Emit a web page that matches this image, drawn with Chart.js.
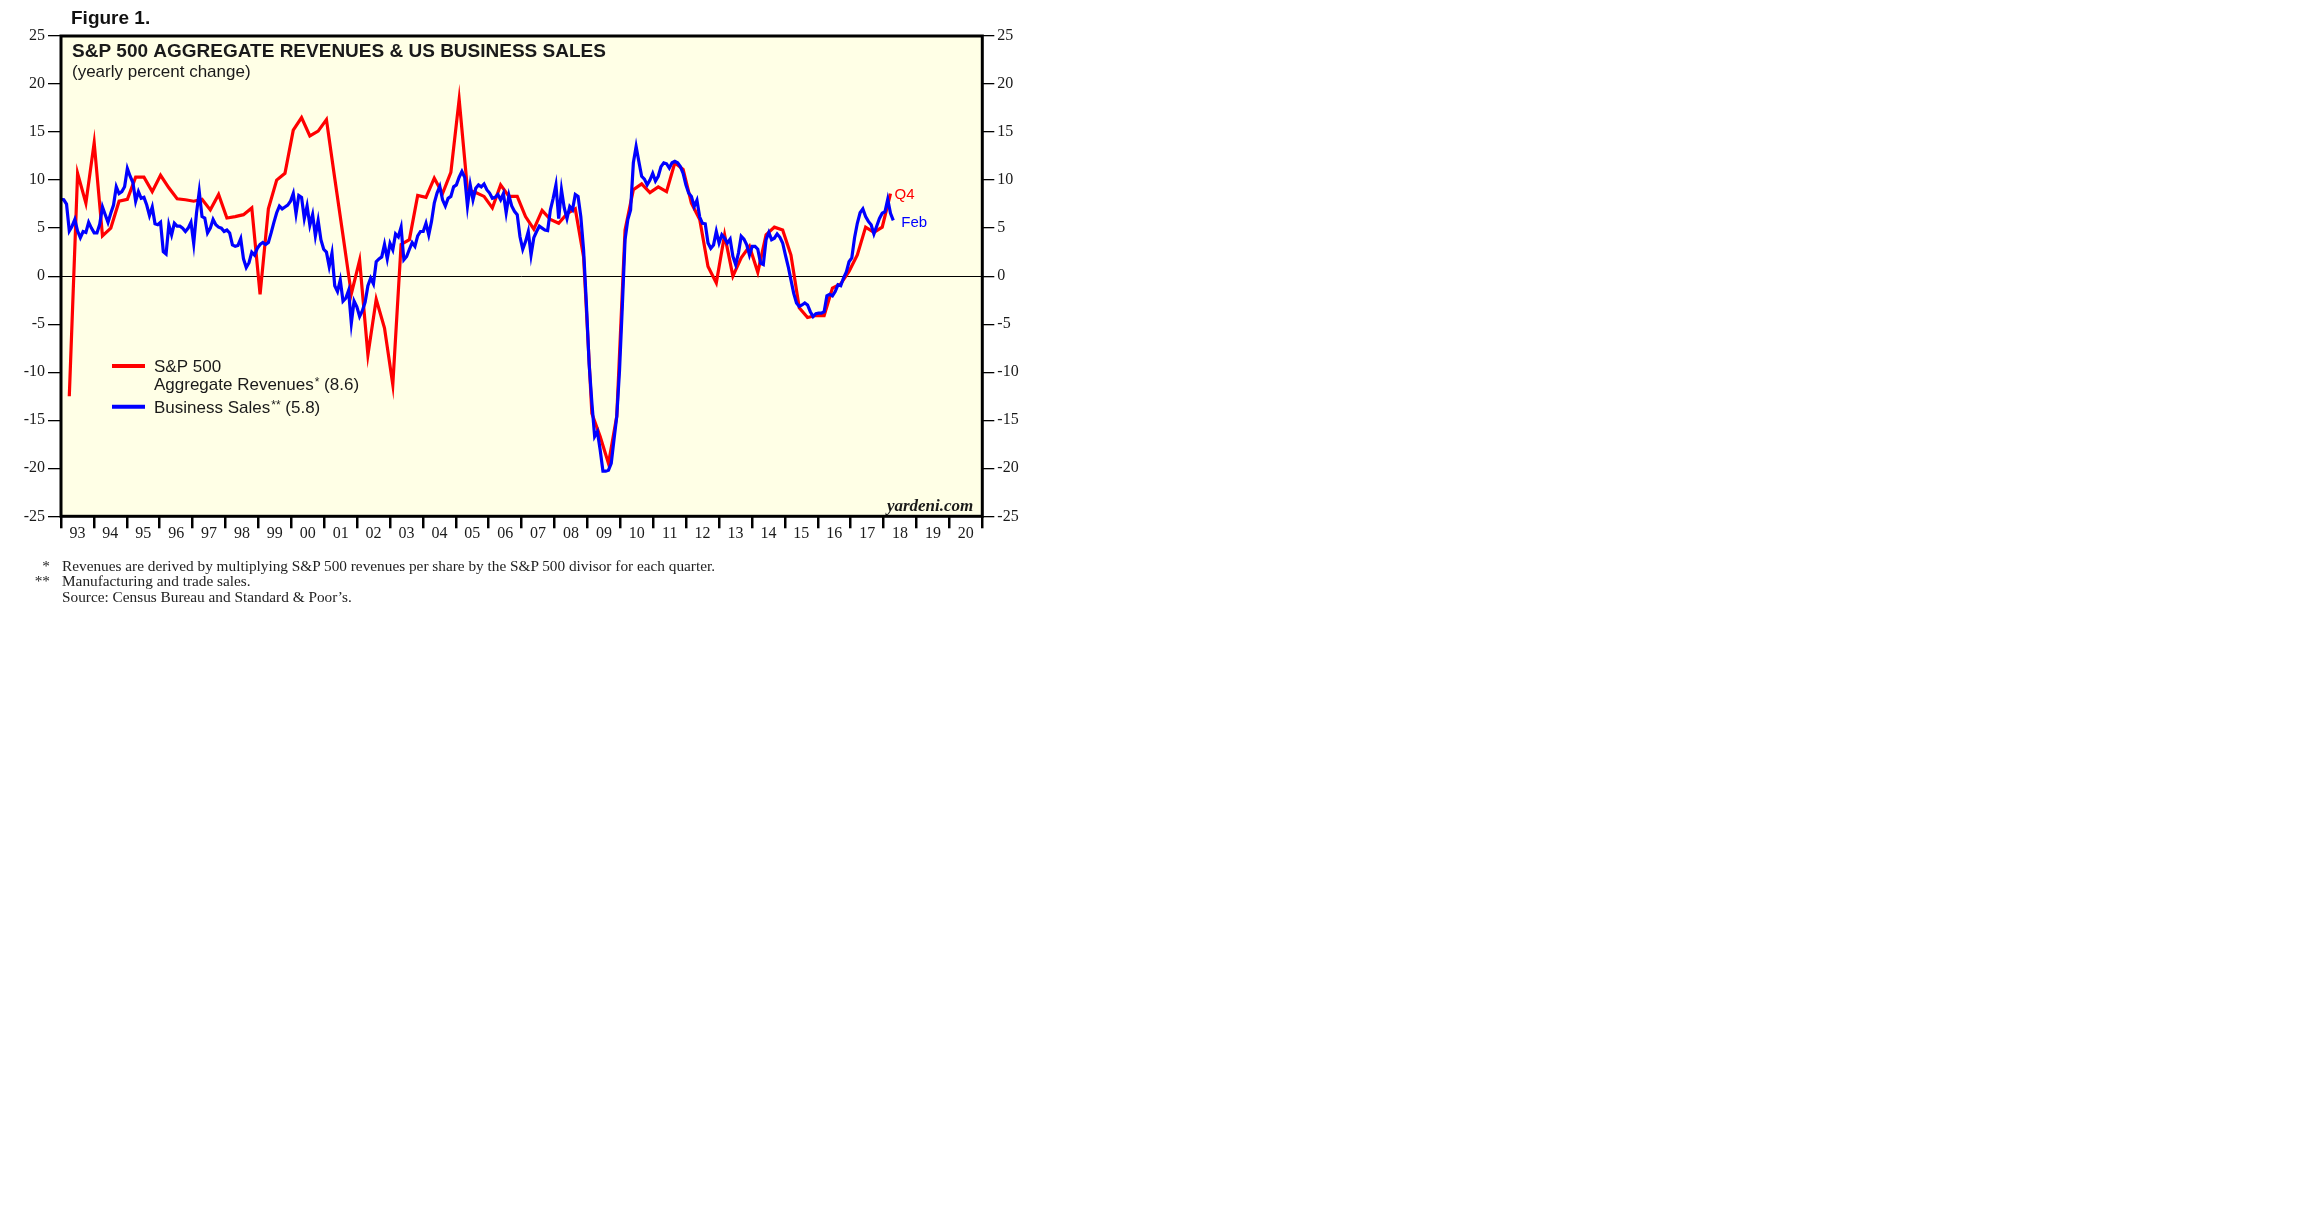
<!DOCTYPE html>
<html>
<head>
<meta charset="utf-8">
<title>S&amp;P 500 Aggregate Revenues &amp; US Business Sales</title>
<script src="https://cdn.jsdelivr.net/npm/chart.js@4.4.1/dist/chart.umd.min.js"></script>
<style>
  html, body { margin: 0; padding: 0; background: #fff; }
  #wrap { position: relative; width: 2304px; height: 1228px; }
  #chart { position: absolute; left: 0; top: 0; }
  .fig { position: absolute; left: 71px; top: 6.5px; font: bold 19px "Liberation Sans", Arial, sans-serif; color: #111; line-height: 22px; }
  .notes { position: absolute; left: 0; top: 558px; font: 15.3px "Liberation Serif", "Times New Roman", serif; color: #222; line-height: 15.4px; white-space: nowrap; }
  .notes .mark { display: inline-block; width: 62px; padding-right: 12px; box-sizing: border-box; text-align: right; }
</style>
</head>
<body>
<div id="wrap">
  <canvas id="chart" width="1040" height="570"></canvas>
  <div class="fig">Figure 1.</div>
  <div class="notes">
    <div><span class="mark">*</span>Revenues are derived by multiplying S&amp;P 500 revenues per share by the S&amp;P 500 divisor for each quarter.</div>
    <div><span class="mark">**</span>Manufacturing and trade sales.</div>
    <div><span class="mark"></span>Source: Census Bureau and Standard &amp; Poor’s.</div>
  </div>
</div>
<script>
// years shown on the time axis
const yearLabels = ['93', '94', '95', '96', '97', '98', '99', '00', '01', '02', '03', '04', '05', '06',
                    '07', '08', '09', '10', '11', '12', '13', '14', '15', '16', '17', '18', '19', '20'];

// S&P 500 aggregate revenues, y/y %, quarterly Q1 1993 .. Q4 2017
const revenues = [
  -12.5, 10.7, 7.6, 13.9, 4.2, 5.0, 7.8, 8.0, 10.3, 10.3,
  8.8, 10.5, 9.2, 8.05, 7.95, 7.8, 8.0, 6.9, 8.5, 6.05,
  6.2, 6.4, 7.1, -1.9, 7.0, 10.0, 10.7, 15.2, 16.5, 14.6,
  15.1, 16.3, 10.2, 4.2, -1.85, 1.65, -8.2, -2.4, -5.4, -11.3,
  3.3, 3.8, 8.4, 8.2, 10.2, 8.6, 10.8, 18.4, 9.0, 8.7,
  8.3, 7.1, 9.5, 8.3, 8.3, 6.2, 4.9, 6.85, 5.9, 5.5,
  6.5, 7.0, 2.0, -14.3, -16.7, -19.5, -14.6, 4.8, 9.0, 9.6,
  8.7, 9.3, 8.8, 11.8, 11.1, 7.6, 5.9, 1.0, -0.7, 4.3,
  0.0, 1.9, 3.1, 0.4, 4.3, 5.1, 4.8, 2.2, -3.3, -4.3,
  -4.1, -4.1, -1.25, -0.8, 0.5, 2.2, 5.1, 4.55, 5.1, 8.6
];

// business sales (manufacturing & trade), y/y %, monthly Jan 1993 .. Feb 2018
const sales93to97 = [
  8.0, 7.95, 7.5, 4.7, 5.2, 5.9, 4.7, 4.0, 4.65, 4.55,
  5.6, 5.0, 4.5, 4.5, 5.4, 7.2, 6.4, 5.6, 6.55, 7.4,
  9.3, 8.6, 8.8, 9.3, 11.2, 10.4, 9.75, 7.8, 8.8, 8.1,
  8.2, 7.4, 6.3, 7.2, 5.45, 5.35, 5.6, 2.55, 2.3, 5.35,
  4.3, 5.5, 5.2, 5.2, 5.0, 4.65, 5.0, 5.6, 3.4, 6.55,
  8.8, 6.2, 6.05, 4.5, 5.0, 5.9, 5.35, 5.1, 5.0, 4.65,
  4.8
];
const sales98to02 = [
  4.5, 3.25, 3.1, 3.2, 3.9, 1.8, 0.9, 1.4, 2.5, 2.2,
  2.9, 3.3, 3.5, 3.3, 3.5, 4.5, 5.6, 6.6, 7.3, 7.0, 7.2, 7.4,
  7.8, 8.6, 6.5, 8.4, 8.2, 6.0, 7.3, 5.3, 6.4, 4.2, 5.8, 3.8,
  2.8, 2.5, 1.0, 2.4, -1.0, -1.6, -0.4, -2.6, -2.3, -1.5, -4.9, -2.6,
  -3.2, -4.2, -3.6, -2.7, -1.0, -0.2, -0.8, 1.5, 1.8, 2.0, 3.3, 1.8
];
const sales03to07 = [
  3.4, 2.75, 4.4, 4.1, 5.1, 1.7, 2.05, 2.8, 3.5, 3.1, 4.2, 4.65,
  4.65, 5.5, 4.3, 5.7, 7.6, 8.65, 9.35, 7.95, 7.3, 8.1, 8.3, 9.3,
  9.5, 10.3, 10.9, 10.3, 7.3, 9.5, 7.95, 9.15, 9.5, 9.3, 9.6, 9.0,
  8.65, 8.1, 8.2, 8.5, 7.95, 8.6, 6.6, 8.4, 7.3, 6.75, 6.4, 4.1,
  2.8, 3.6, 4.65, 2.2, 4.0, 4.65, 5.2, 5.0, 4.8, 4.75, 6.9, 8.1
];
const sales08to12 = [
  9.5, 6.0, 9.0, 7.1, 6.0, 7.25, 6.9, 8.5, 8.3, 6.2, 2.75, -2.8,
  -9.1, -13.2, -16.7, -16.2, -18.1, -20.3, -20.3, -20.2, -19.5, -17, -14.6, -9.8,
  -3.2, 3.8, 5.9, 6.9, 11.8, 13.5, 11.9, 10.4, 10.1, 9.5, 10.0, 10.7,
  9.9, 10.4, 11.4, 11.8, 11.7, 11.25, 11.8, 11.95, 11.8, 11.4, 10.7,
  9.5, 8.65, 8.3, 7.25, 7.9, 6.15, 5.5, 5.45, 3.45, 2.9, 3.25, 4.65
];
const sales13to18 = [
  3.45, 4.3, 3.95, 3.45, 3.85, 2.05, 1.2, 2.4, 4.15, 3.85, 3.25, 2.2,
  3.1, 3.1, 2.8, 1.35, 1.2, 3.8, 4.55, 3.8, 3.95, 4.4, 4.05, 3.45,
  2.2, 1.0, -0.4, -1.8, -2.8, -3.15, -3.0, -2.8, -3.0, -3.7, -4.2, -3.9,
  -3.85, -3.85, -3.7, -2.05, -1.9, -2.05, -1.6, -0.9, -1.0, -0.2, 0.4, 1.5,
  1.9, 4.0, 5.5, 6.6, 7.0, 6.2, 5.7, 5.35, 4.4, 5.2, 6.0, 6.55, 6.7, 8.0, 6.55, 5.8
];
const sales = [].concat(sales93to97, sales98to02, sales03to07, sales08to12, sales13to18);

// x is counted in months from Jan 1993; the printed year grid is slightly wider than 12 months
const MONTHS_PER_AXIS_YEAR = 11.9;
const AXIS_MAX = yearLabels.length * MONTHS_PER_AXIS_YEAR;

const revenuePoints = revenues.map((v, i) => ({ x: 3 + 3 * i, y: v }));
const salesPoints = sales.map((v, i) => ({ x: i, y: v }));

const RED = '#ff0000';
const BLUE = '#0000ff';
const INK = '#1a1a1a';
const SANS = '"Liberation Sans", Arial, sans-serif';
const serifTick = { family: '"Liberation Serif", "Times New Roman", serif', size: 16 };

// background, frame, zero line and the texts inside the plot
const yardeniDecor = {
    id: 'yardeniDecor',
    beforeDraw(chart) {
        const { ctx, chartArea: a } = chart;
        ctx.save();
        ctx.fillStyle = '#fff';
        ctx.fillRect(0, 0, chart.width, chart.height);
        ctx.fillStyle = '#ffffe6';
        ctx.fillRect(a.left, a.top, a.right - a.left, a.bottom - a.top);
        ctx.restore();
    },
    beforeDatasetsDraw(chart) {
        const { ctx, chartArea: a } = chart;
        const y0 = Math.round(chart.scales.y.getPixelForValue(0)) + 0.5;
        ctx.save();
        ctx.strokeStyle = '#000';
        ctx.lineWidth = 1;
        ctx.beginPath();
        ctx.moveTo(a.left, y0);
        ctx.lineTo(a.right, y0);
        ctx.stroke();
        ctx.restore();
    },
    afterDatasetsDraw(chart) {
        const { ctx, chartArea: a } = chart;
        const xs = chart.scales.x, ys = chart.scales.y;
        ctx.save();

        // frame
        ctx.strokeStyle = '#000';
        ctx.lineWidth = 3;
        ctx.strokeRect(a.left, a.top, a.right - a.left, a.bottom - a.top);

        // title
        ctx.fillStyle = INK;
        ctx.textBaseline = 'alphabetic';
        ctx.textAlign = 'left';
        ctx.font = 'bold 19px ' + SANS;
        ctx.fillText('S&P 500 AGGREGATE REVENUES & US BUSINESS SALES', a.left + 11, a.top + 21);
        ctx.font = '17px ' + SANS;
        ctx.fillText('(yearly percent change)', a.left + 11, a.top + 40.5);

        // legend
        const lx = a.left + 51, tx = a.left + 93;
        const legendRow = (color, y) => {
            ctx.strokeStyle = color;
            ctx.lineWidth = 4;
            ctx.beginPath();
            ctx.moveTo(lx, y);
            ctx.lineTo(lx + 33, y);
            ctx.stroke();
        };
        const starred = (text, stars, tail, x, y) => {
            ctx.font = '17px ' + SANS;
            ctx.fillText(text, x, y);
            let w = ctx.measureText(text).width;
            ctx.font = '12px ' + SANS;
            ctx.fillText(stars, x + w + 1, y - 4);
            w += ctx.measureText(stars).width + 1;
            ctx.font = '17px ' + SANS;
            ctx.fillText(tail, x + w, y);
        };
        ctx.fillStyle = INK;
        legendRow(RED, a.top + 330);
        ctx.font = '17px ' + SANS;
        ctx.fillText('S&P 500', tx, a.top + 336);
        starred('Aggregate Revenues', '*', ' (' + revenues[revenues.length - 1].toFixed(1) + ')', tx, a.top + 353.5);
        legendRow(BLUE, a.top + 370.7);
        starred('Business Sales', '**', ' (' + sales[sales.length - 1].toFixed(1) + ')', tx, a.top + 377);

        // end-of-series labels
        const last = revenuePoints[revenuePoints.length - 1];
        const lastS = salesPoints[salesPoints.length - 1];
        ctx.font = '15px ' + SANS;
        ctx.textBaseline = 'middle';
        ctx.fillStyle = RED;
        ctx.fillText('Q4', xs.getPixelForValue(last.x) + 4, ys.getPixelForValue(last.y) + 1.6);
        ctx.fillStyle = BLUE;
        ctx.fillText('Feb', xs.getPixelForValue(lastS.x) + 8, ys.getPixelForValue(lastS.y) + 2);

        // source mark
        ctx.fillStyle = INK;
        ctx.textBaseline = 'alphabetic';
        ctx.textAlign = 'right';
        ctx.font = 'bold italic 17px "Liberation Serif", "Times New Roman", serif';
        ctx.fillText('yardeni.com', a.right - 9, a.bottom - 5.5);
        ctx.restore();
    }
};

const yAxis = (position, width) => ({
    position: position,
    min: -25,
    max: 25,
    afterFit: s => { s.width = width; },
    ticks: { stepSize: 5, padding: 3, color: INK, font: serifTick },
    grid: { drawOnChartArea: false, drawTicks: true, tickLength: position === 'left' ? 13 : 12, color: '#000', lineWidth: 1.3 },
    border: { display: false }
});

new Chart(document.getElementById('chart'), {
    type: 'line',
    data: {
        datasets: [
            {
                label: 'Business Sales',
                data: salesPoints,
                borderColor: BLUE,
                borderWidth: 3.2,
                pointRadius: 0,
                tension: 0,
                order: 0
            },
            {
                label: 'S&P 500 Aggregate Revenues',
                data: revenuePoints,
                borderColor: RED,
                borderWidth: 3.2,
                pointRadius: 0,
                tension: 0,
                order: 1
            }
        ]
    },
    options: {
        responsive: false,
        animation: false,
        devicePixelRatio: 1,
        layout: { padding: { left: 0, top: 36, right: 17.7, bottom: 28.7 } },
        plugins: { legend: { display: false }, tooltip: { enabled: false }, title: { display: false } },
        scales: {
            x: {
                type: 'linear',
                position: 'bottom',
                min: 0,
                max: AXIS_MAX,
                afterBuildTicks: s => {
                    s.ticks = yearLabels.map((_, k) => ({ value: k * MONTHS_PER_AXIS_YEAR }))
                        .concat([{ value: AXIS_MAX }]);
                },
                afterFit: s => { s.height = 0; },
                ticks: { display: false },
                grid: { drawOnChartArea: false, drawTicks: true, tickLength: 12, color: '#000', lineWidth: 2.5 },
                border: { display: false }
            },
            xYears: {
                type: 'linear',
                position: 'bottom',
                weight: 1,
                min: 0,
                max: AXIS_MAX,
                afterBuildTicks: s => {
                    s.ticks = yearLabels.map((_, k) => ({ value: (k + 0.5) * MONTHS_PER_AXIS_YEAR }));
                },
                afterFit: s => { s.height = 25; },
                ticks: {
                    callback: (v, i) => yearLabels[i],
                    autoSkip: false,
                    maxRotation: 0,
                    padding: 0,
                    color: INK,
                    font: serifTick
                },
                grid: { display: false },
                border: { display: false }
            },
            y: yAxis('left', 61),
            y2: yAxis('right', 40)
        }
    },
    plugins: [yardeniDecor]
});
</script>
</body>
</html>
